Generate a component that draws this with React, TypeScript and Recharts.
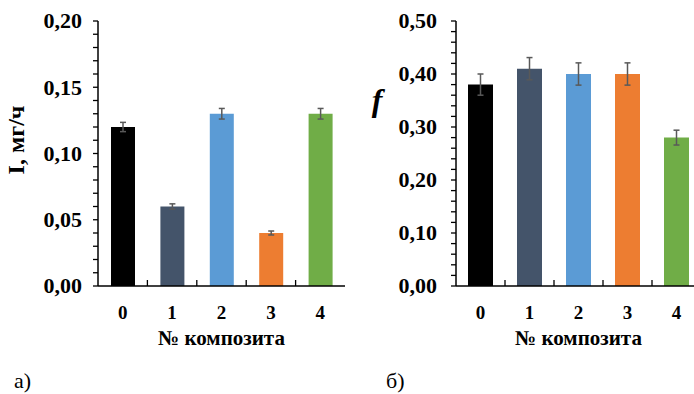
import React from "react";
import { BarChart, Bar, XAxis, YAxis, Cell, ErrorBar } from "recharts";

// № композита
const categories = ["0", "1", "2", "3", "4"];
// I, мг/ч (chart a)
const intensity = [0.12, 0.06, 0.13, 0.04, 0.13];
const intensityErr = [0.0035, 0.002, 0.004, 0.0015, 0.004];
// f (chart б)
const friction = [0.38, 0.41, 0.4, 0.4, 0.28];
const frictionErr = [0.02, 0.021, 0.021, 0.021, 0.014];

const barColors = ["#000000", "#44546A", "#5B9BD5", "#ED7D31", "#70AD47"];

const intensityMajor = [0, 0.05, 0.1, 0.15, 0.2];
const intensityMinorStep = 0.01;
const frictionMajor = [0, 0.1, 0.2, 0.3, 0.4, 0.5];
const frictionMinorStep = 0.02;

const FONT = "Liberation Serif, Times New Roman, serif";

const buildTicks = (major: number[], step: number) => {
  const out: number[] = [];
  const max = major[major.length - 1];
  for (let v = 0; v <= max + 1e-9; v += step) out.push(Math.round(v * 1000) / 1000);
  return out;
};

const isMajor = (v: number, major: number[]) => major.some((m) => Math.abs(m - v) < 1e-6);

const fmt = (v: number) => v.toFixed(2).replace(".", ",");

const makeYTick = (major: number[]) => (props: any) => {
  const { x, y, payload } = props;
  if (!isMajor(payload.value, major)) return <g />;
  return (
    <text
      x={x}
      y={y}
      dy="0.34em"
      textAnchor="end"
      style={{ fontFamily: FONT, fontWeight: "bold", fontSize: 22 }}
      fill="#000"
    >
      {fmt(payload.value)}
    </text>
  );
};

const makeXTick = (bandWidth: number) => (props: any) => {
  const { x, y, payload, index } = props;
  return (
    <g>
      {index < categories.length - 1 && (
        <line x1={x + bandWidth / 2} x2={x + bandWidth / 2} y1={y - 6} y2={y} stroke="#000" strokeWidth={1.3} />
      )}
      <text
        x={x}
        y={y + 33}
        textAnchor="middle"
        style={{ fontFamily: FONT, fontWeight: "bold", fontSize: 19 }}
        fill="#000"
      >
        {payload.value}
      </text>
    </g>
  );
};

const xTitle = {
  value: "№ композита",
  position: "insideBottom" as const,
  offset: 1,
  style: { fontFamily: FONT, fontWeight: "bold", fontSize: 21, fill: "#000" },
};

const dataA = categories.map((c, i) => ({ name: c, value: intensity[i], err: intensityErr[i] }));
const dataB = categories.map((c, i) => ({ name: c, value: friction[i], err: frictionErr[i] }));

const caption: React.CSSProperties = {
  position: "absolute",
  top: 368,
  fontFamily: FONT,
  fontSize: 22,
  color: "#000",
};

export default function App() {
  return (
    <div style={{ position: "absolute", left: 0, top: 0, width: 694, height: 394, overflow: "hidden", background: "#fff" }}>
      <div style={{ position: "absolute", left: 0, top: 0 }}>
        <BarChart width={347} height={394} data={dataA} margin={{ top: 21, right: 2, bottom: 48, left: 0 }}>
          <XAxis
            dataKey="name"
            height={60}
            tickLine={false}
            tickSize={0}
            tickMargin={0}
            axisLine={{ stroke: "#000", strokeWidth: 1.5 }}
            tick={makeXTick(247 / 5)}
            interval={0}
            label={xTitle}
          />
          <YAxis
            width={98}
            domain={[0, 0.2]}
            ticks={buildTicks(intensityMajor, intensityMinorStep)}
            interval={0}
            tickSize={5}
            tickMargin={11}
            tickLine={{ stroke: "#000", strokeWidth: 1.3 }}
            axisLine={{ stroke: "#000", strokeWidth: 1.5 }}
            tick={makeYTick(intensityMajor)}
            label={{
              content: () => (
                <text
                  x={16}
                  y={140}
                  transform="rotate(-90 16 140)"
                  textAnchor="middle"
                  dominantBaseline="central"
                  style={{ fontFamily: FONT, fontWeight: "bold", fontSize: 24 }}
                  fill="#000"
                >
                  I, мг/ч
                </text>
              ),
            }}
          />
          <Bar dataKey="value" barSize={24} isAnimationActive={false}>
            {dataA.map((d, i) => (
              <Cell key={d.name} fill={barColors[i]} />
            ))}
            <ErrorBar dataKey="err" width={3} stroke="#595959" strokeWidth={1.5} isAnimationActive={false} />
          </Bar>
        </BarChart>
      </div>
      <div style={{ position: "absolute", left: 347, top: 0 }}>
        <BarChart width={360} height={394} data={dataB} margin={{ top: 21, right: 6, bottom: 48, left: 0 }}>
          <XAxis
            dataKey="name"
            height={60}
            tickLine={false}
            tickSize={0}
            tickMargin={0}
            axisLine={{ stroke: "#000", strokeWidth: 1.5 }}
            tick={makeXTick(245 / 5)}
            interval={0}
            label={xTitle}
          />
          <YAxis
            width={109}
            domain={[0, 0.5]}
            ticks={buildTicks(frictionMajor, frictionMinorStep)}
            interval={0}
            tickSize={5}
            tickMargin={14}
            tickLine={{ stroke: "#000", strokeWidth: 1.3 }}
            axisLine={{ stroke: "#000", strokeWidth: 1.5 }}
            tick={makeYTick(frictionMajor)}
            label={{
              content: () => (
                <text
                  x={30}
                  y={100}
                  textAnchor="middle"
                  dominantBaseline="central"
                  style={{ fontFamily: FONT, fontWeight: "bold", fontStyle: "italic", fontSize: 32 }}
                  fill="#000"
                >
                  f
                </text>
              ),
            }}
          />
          <Bar dataKey="value" barSize={25} isAnimationActive={false}>
            {dataB.map((d, i) => (
              <Cell key={d.name} fill={barColors[i]} />
            ))}
            <ErrorBar dataKey="err" width={3} stroke="#595959" strokeWidth={1.5} isAnimationActive={false} />
          </Bar>
        </BarChart>
      </div>
      <div style={{ ...caption, left: 14 }}>а)</div>
      <div style={{ ...caption, left: 386 }}>б)</div>
    </div>
  );
}
